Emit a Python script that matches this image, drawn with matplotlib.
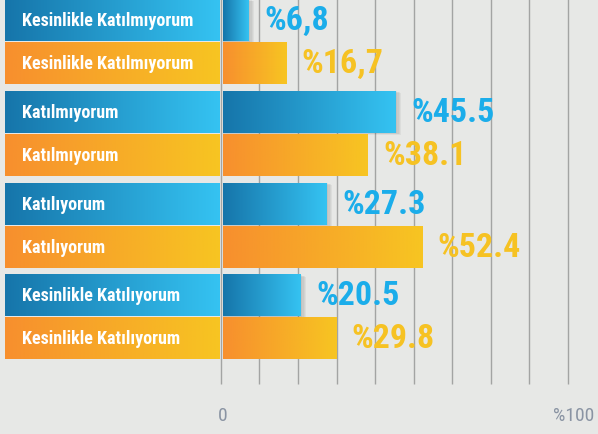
import numpy as np
import matplotlib
matplotlib.use("Agg")
import matplotlib.pyplot as plt
from matplotlib.colors import to_rgb
from matplotlib.patches import Rectangle

categories = ["Kesinlikle Katılmıyorum", "Katılmıyorum", "Katılıyorum", "Kesinlikle Katılıyorum"]
blue_values = [6.8, 45.5, 27.3, 20.5]
orange_values = [16.7, 38.1, 52.4, 29.8]
blue_labels = ["%6,8", "%45.5", "%27.3", "%20.5"]
orange_labels = ["%16,7", "%38.1", "%52.4", "%29.8"]

BG = "#e7e8e6"
BLUE = ("#1675aa", "#35c3f2")
ORANGE = ("#f78f2e", "#f7c522")
BLUE_TXT = "#1badea"
ORANGE_TXT = "#f6c223"
FONT = ["Roboto Condensed", "DejaVu Sans"]

px = 3.8          # pixels per percent
x0 = 222          # pixel of 0
pitch = 91.8      # pixels per group
bar_h = 42 / pitch
blue_off = 21 / pitch
orange_off = 64 / pitch
box_left = -57.2
box_right = -0.7


def gradient(ax, x, y, w, h, cols, z=2):
    c1, c2 = np.array(to_rgb(cols[0])), np.array(to_rgb(cols[1]))
    t = np.linspace(0, 1, 256)[None, :, None]
    img = c1 + (c2 - c1) * t
    ax.imshow(img, extent=[x, x + w, y + h, y], aspect="auto",
              interpolation="bicubic", zorder=z)


fig = plt.figure(figsize=(5.98, 4.35), dpi=100)
fig.patch.set_facecolor(BG)
ax = fig.add_axes([0, 0, 1, 1])
ax.set_facecolor(BG)
ax.axis("off")

idx = np.arange(len(categories))
yb = idx + blue_off
yo = idx + orange_off

# gridlines
grid_x = np.arange(10) * 10.15 - 0.3
ax.vlines(grid_x, 0, 385 / pitch, colors="#a3a4a3", linewidth=1.0, zorder=1)

bars_b = ax.barh(yb, blue_values, height=bar_h, left=0.3, color="none", zorder=0)
bars_o = ax.barh(yo, orange_values, height=bar_h, left=0.3, color="none", zorder=0)

for bars, cols, shadow in [(bars_b, BLUE, True), (bars_o, ORANGE, False)]:
    for p in bars.patches:
        x, y, w, h = p.get_x(), p.get_y(), p.get_width(), p.get_height()
        if shadow:
            for k in range(1, 5):
                ax.add_patch(Rectangle((x, y + 0.006 * k), w + 0.35 * k, h,
                                       color="#555555", alpha=0.07, lw=0, zorder=1.5))
        gradient(ax, x, y, w, h, cols)

# label boxes
for i, name in enumerate(categories):
    for yc, cols in [(yb[i], BLUE), (yo[i], ORANGE)]:
        gradient(ax, box_left, yc - bar_h / 2, box_right - box_left, bar_h, cols)
        ax.text(box_left + 4.5, yc, name, color="white", fontsize=13,
                fontweight="bold", family=FONT, va="center", ha="left", zorder=3)

# value labels
for p, lab in zip(bars_b.patches, blue_labels):
    ax.text(p.get_x() + p.get_width() + 4.0, p.get_y() + p.get_height() / 2, lab,
            color=BLUE_TXT, fontsize=24.5, fontweight="bold", family=FONT,
            va="center", ha="left", zorder=3)
for p, lab in zip(bars_o.patches, orange_labels):
    ax.text(p.get_x() + p.get_width() + 4.0, p.get_y() + p.get_height() / 2, lab,
            color=ORANGE_TXT, fontsize=24.5, fontweight="bold", family=FONT,
            va="center", ha="left", zorder=3)

ax.text(0.2, 416 / pitch, "0", color="#8a94a3", fontsize=14, family=FONT,
        ha="center", va="center")
ax.text(92.6, 416 / pitch, "%100", color="#8a94a3", fontsize=14, family=FONT,
        ha="center", va="center")

ax.set_xlim(-x0 / px, (598 - x0) / px)
ax.set_ylim(435 / pitch, 0)

fig.savefig("out.png", dpi=100, facecolor=BG)
